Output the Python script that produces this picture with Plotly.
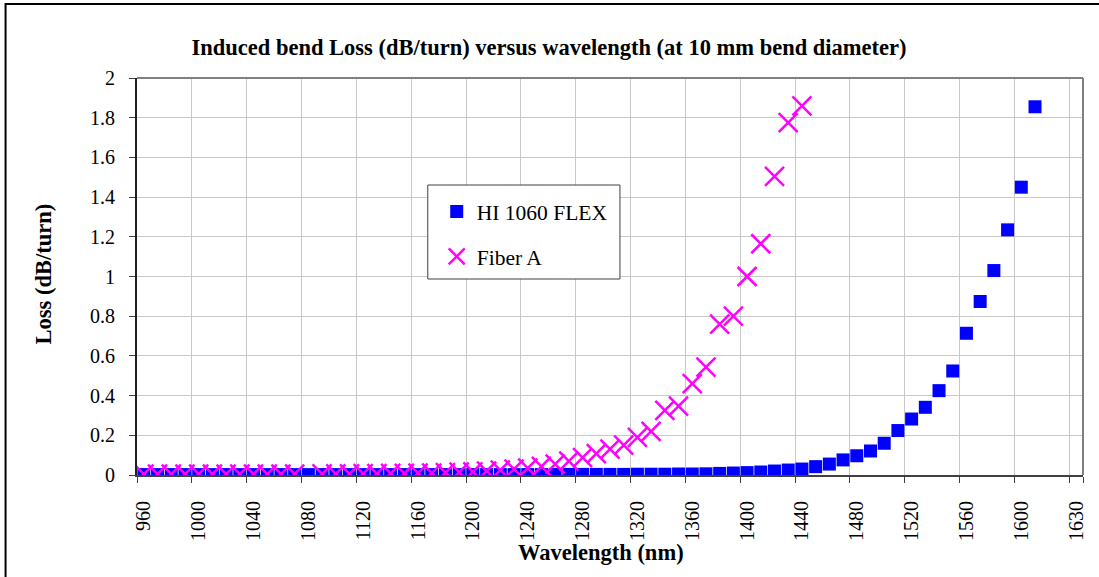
import plotly.graph_objects as go

# ---------------- data ----------------
wavelength_categories = [
    "960", "970", "980", "990", "1000", "1010", "1020", "1030", "1040", "1050",
    "1060", "1070", "1080", "1090", "1100", "1110", "1120", "1130", "1140", "1150",
    "1160", "1170", "1180", "1190", "1200", "1210", "1220", "1230", "1240", "1250",
    "1260", "1270", "1280", "1290", "1300", "1310", "1320", "1330", "1340", "1350",
    "1360", "1370", "1380", "1390", "1400", "1410", "1420", "1430", "1440", "1450",
    "1460", "1470", "1480", "1490", "1500", "1510", "1520", "1530", "1540", "1550",
    "1560", "1570", "1580", "1590", "1600", "1610", "1615", "1620", "1630",
]

hi1060_flex_loss = [
    0.002, 0.002, 0.002, 0.002, 0.002, 0.002, 0.002, 0.002, 0.002, 0.002,
    0.002, 0.002, 0.002, 0.002, 0.002, 0.002, 0.002, 0.002, 0.002, 0.002,
    0.002, 0.002, 0.002, 0.002, 0.002, 0.002, 0.002, 0.002, 0.002, 0.002,
    0.003, 0.003, 0.003, 0.003, 0.003, 0.003, 0.004, 0.004, 0.004, 0.005,
    0.005, 0.006, 0.008, 0.010, 0.012, 0.015, 0.020, 0.025, 0.030, 0.042,
    0.055, 0.076, 0.097, 0.121, 0.160, 0.224, 0.282, 0.341, 0.425, 0.524,
    0.714, 0.874, 1.030, 1.235, 1.450, 1.855, None, None, None,
]

fiber_a_loss = [
    0.005, 0.005, 0.005, 0.005, 0.005, 0.005, 0.005, 0.005, 0.005, 0.005,
    0.005, 0.005, None, 0.006, 0.006, 0.006, 0.007, 0.007, 0.008, 0.008,
    0.009, 0.010, 0.012, 0.014, 0.016, 0.020, 0.025, 0.030, 0.035, 0.043,
    0.055, 0.070, 0.088, 0.108, 0.130, 0.150, 0.190, 0.220, 0.325, 0.347,
    0.460, 0.543, 0.760, 0.800, 1.000, 1.165, 1.504, 1.775, 1.860, None,
    None, None, None, None, None, None, None, None, None, None,
    None, None, None, None, None, None, None, None, None,
]

tick_labels = ["960", "1000", "1040", "1080", "1120", "1160", "1200", "1240",
               "1280", "1320", "1360", "1400", "1440", "1480", "1520", "1560",
               "1600", "1630"]

y_ticks = [0, 0.2, 0.4, 0.6, 0.8, 1, 1.2, 1.4, 1.6, 1.8, 2]

# ---------------- layout geometry ----------------
W, H = 1099, 577
ML, MR, MT, MB = 137, 12, 78, 102
PW, PH = W - ML - MR, H - MT - MB


def px_x(x):
    return (x - ML) / PW


def px_y(y):
    return (H - MB - y) / PH


FONT = "Liberation Serif"

fig = go.Figure()

fig.add_trace(go.Scatter(
    x=wavelength_categories, y=hi1060_flex_loss, mode="markers",
    name="HI 1060 FLEX", legendgroup="a",
    marker=dict(symbol="square", size=13, color="#0000FF",
                line=dict(width=0)),
))
fig.add_trace(go.Scatter(
    x=wavelength_categories, y=fiber_a_loss, mode="markers",
    name="Fiber A", legendgroup="b",
    marker=dict(symbol="x-thin", size=19, color="#FF00FF",
                line=dict(width=2.5, color="#FF00FF")),
))

fig.update_layout(
    width=W, height=H,
    margin=dict(l=ML, r=MR, t=MT, b=MB),
    paper_bgcolor="white", plot_bgcolor="white",
    font=dict(family=FONT, size=20, color="black"),
    showlegend=True,
    legend=dict(
        x=px_x(438), y=px_y(191), xanchor="left", yanchor="top",
        bgcolor="rgba(0,0,0,0)", borderwidth=0,
        font=dict(family=FONT, size=21.5, color="black"),
        tracegroupgap=14, itemwidth=30,
    ),
    title=dict(
        text="<b>Induced bend Loss (dB/turn) versus wavelength (at 10 mm bend diameter)</b>",
        x=549 / W, xref="container", xanchor="center",
        y=1 - 47 / H, yanchor="middle",
        font=dict(family=FONT, size=22.5, color="black"),
    ),
    xaxis=dict(
        type="category",
        categoryorder="array", categoryarray=wavelength_categories,
        range=[-0.5, len(wavelength_categories) - 0.5],
        tickmode="array",
        tickvals=[c for c in wavelength_categories if c in tick_labels],
        ticktext=tick_labels,
        tickson="boundaries",
        tickangle=-90,
        ticks="outside", ticklen=6, tickcolor="#404040", tickwidth=1,
        showgrid=True, gridcolor="#C8C8C8", gridwidth=1,
        showline=True, linecolor="#404040", linewidth=2,
        zeroline=False,
        tickfont=dict(family=FONT, size=20),
        ticklabelstandoff=16,
    ),
    yaxis=dict(
        range=[0, 2],
        tickmode="array", tickvals=y_ticks,
        ticks="outside", ticklen=6, tickcolor="#404040", tickwidth=1,
        showgrid=True, gridcolor="#C8C8C8", gridwidth=1,
        showline=True, linecolor="#202020", linewidth=2,
        zeroline=False,
        tickfont=dict(family=FONT, size=20),
        ticklabelstandoff=10,
    ),
)

# plot frame (top & right, grey)
fig.add_shape(type="line", xref="paper", yref="paper", x0=0, x1=1, y0=1, y1=1,
              line=dict(color="#808080", width=2), layer="above")
fig.add_shape(type="line", xref="paper", yref="paper", x0=1, x1=1, y0=0, y1=1,
              line=dict(color="#808080", width=2), layer="above")

# legend box
fig.add_shape(type="rect", xref="paper", yref="paper",
              x0=px_x(429), x1=px_x(622), y0=px_y(279), y1=px_y(185),
              line=dict(color="#404040", width=1), fillcolor="white", layer="above")

# outer chart border
fig.add_shape(type="rect", xref="paper", yref="paper",
              x0=px_x(5), x1=px_x(W + 20), y0=px_y(H + 20), y1=px_y(4),
              line=dict(color="black", width=2))

# axis titles
fig.add_annotation(text="<b>Wavelength (nm)</b>", xref="paper", yref="paper",
                   x=px_x(603), y=px_y(552), showarrow=False,
                   xanchor="center", yanchor="middle",
                   font=dict(family=FONT, size=22.5))
fig.add_annotation(text="<b>Loss (dB/turn)</b>", xref="paper", yref="paper",
                   x=px_x(43), y=px_y(274), showarrow=False, textangle=-90,
                   xanchor="center", yanchor="middle",
                   font=dict(family=FONT, size=22.5))

fig.write_html("out.html",
               config={"displayModeBar": False},
               post_script="document.body.style.margin='0px';document.body.style.overflow='hidden';")
